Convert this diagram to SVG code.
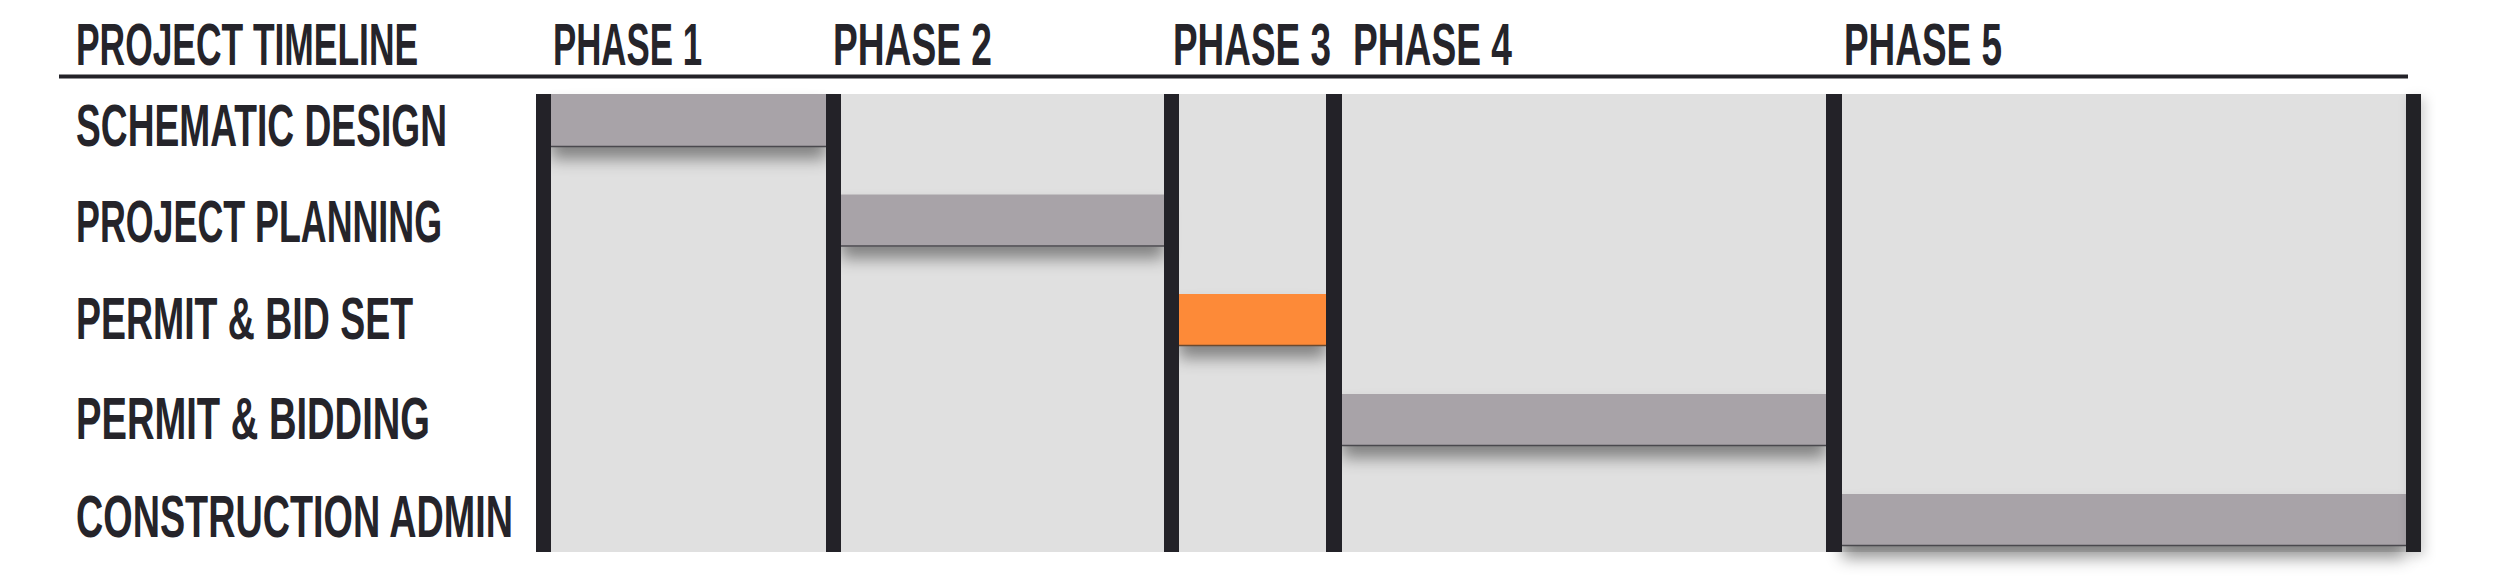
<svg xmlns="http://www.w3.org/2000/svg" width="2500" height="588" viewBox="0 0 2500 588">
<style>
.lbl{font-family:"Liberation Sans",Arial,sans-serif;font-size:60px;font-weight:bold;fill:#25242a;}
.col{fill:#e0e0e0;}
.sep{fill:#232228;}
.task{fill:#a8a3a8;}
.hot{fill:#fd8a37;}
.edge{stroke:#4a494e;stroke-width:1.6;}
</style>
<defs>
<filter id="sh" x="-10%" y="-40%" width="120%" height="220%">
<feDropShadow dx="0" dy="12" stdDeviation="8" flood-color="#000" flood-opacity="0.42"/>
</filter>
<filter id="sh2" x="-50%" y="-5%" width="250%" height="115%">
<feDropShadow dx="4" dy="4" stdDeviation="6" flood-color="#000" flood-opacity="0.18"/>
</filter>
</defs>
<rect width="2500" height="588" fill="#ffffff"/>
<g id="header">
<text class="lbl" transform="translate(76,65) scale(0.59,1)" textLength="579.7" lengthAdjust="spacingAndGlyphs">PROJECT TIMELINE</text>
<text class="lbl" transform="translate(553,65) scale(0.58,1)" textLength="256.9" lengthAdjust="spacingAndGlyphs">PHASE 1</text>
<text class="lbl" transform="translate(833,65) scale(0.62,1)" textLength="256.5" lengthAdjust="spacingAndGlyphs">PHASE 2</text>
<text class="lbl" transform="translate(1173,65) scale(0.62,1)" textLength="254.8" lengthAdjust="spacingAndGlyphs">PHASE 3</text>
<text class="lbl" transform="translate(1353,65) scale(0.62,1)" textLength="256.5" lengthAdjust="spacingAndGlyphs">PHASE 4</text>
<text class="lbl" transform="translate(1844,65) scale(0.62,1)" textLength="254.8" lengthAdjust="spacingAndGlyphs">PHASE 5</text>
<line x1="59" y1="76.5" x2="2408" y2="76.5" stroke="#232228" stroke-width="4"/>
</g>
<g id="labels">
<text class="lbl" transform="translate(76,146) scale(0.615,1)" textLength="603.3" lengthAdjust="spacingAndGlyphs">SCHEMATIC DESIGN</text>
<text class="lbl" transform="translate(76,242) scale(0.597,1)" textLength="613.1" lengthAdjust="spacingAndGlyphs">PROJECT PLANNING</text>
<text class="lbl" transform="translate(76,339) scale(0.624,1)" textLength="540.1" lengthAdjust="spacingAndGlyphs">PERMIT &amp; BID SET</text>
<text class="lbl" transform="translate(76,439) scale(0.636,1)" textLength="556.6" lengthAdjust="spacingAndGlyphs">PERMIT &amp; BIDDING</text>
<text class="lbl" transform="translate(76,537) scale(0.627,1)" textLength="697" lengthAdjust="spacingAndGlyphs">CONSTRUCTION ADMIN</text>
</g>
<g id="grid">
<rect class="col" x="536" y="94" width="1885" height="458"/>
</g>
<g id="task-schematic-design">
<rect class="task" x="551" y="94" width="275" height="53" filter="url(#sh)"/>
<line class="edge" x1="551" y1="146.5" x2="826" y2="146.5"/>
</g>
<g id="task-project-planning">
<rect class="task" x="841" y="194.5" width="323" height="52" filter="url(#sh)"/>
<line class="edge" x1="841" y1="246" x2="1164" y2="246"/>
</g>
<g id="task-permit-bid-set">
<rect class="hot" x="1179" y="294" width="147" height="52" filter="url(#sh)"/>
<line x1="1179" y1="345.5" x2="1326" y2="345.5" stroke="#6a4a30" stroke-width="1.6"/>
</g>
<g id="task-permit-bidding">
<rect class="task" x="1342" y="394" width="484" height="52" filter="url(#sh)"/>
<line class="edge" x1="1342" y1="445.5" x2="1826" y2="445.5"/>
</g>
<g id="task-construction-admin">
<rect class="task" x="1842" y="494" width="564" height="52" filter="url(#sh)"/>
<line class="edge" x1="1842" y1="545.5" x2="2406" y2="545.5"/>
</g>
<g id="separators">
<rect class="sep" x="536" y="94" width="15" height="458"/>
<rect class="sep" x="826" y="94" width="15" height="458"/>
<rect class="sep" x="1164" y="94" width="15" height="458"/>
<rect class="sep" x="1326" y="94" width="16" height="458"/>
<rect class="sep" x="1826" y="94" width="16" height="458"/>
<rect class="sep" x="2406" y="94" width="15" height="458" filter="url(#sh2)"/>
</g>
<g id="connectors"/>
</svg>
